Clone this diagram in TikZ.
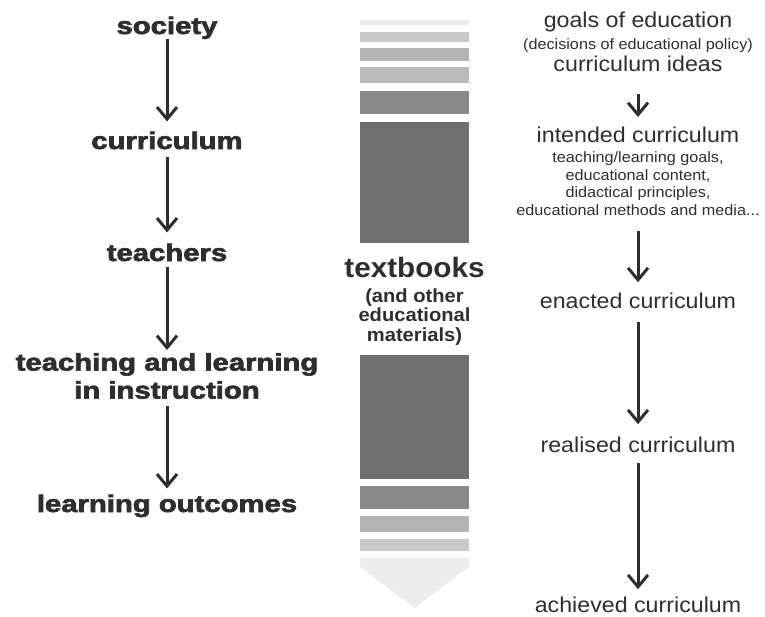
\documentclass[tikz,border=0pt]{standalone}
\usepackage{fontspec}
\setmainfont{Liberation Sans}
\newfontfamily\heavysans{Liberation Sans Bold}[FakeBold=2.5]
\usetikzlibrary{arrows.meta}

\definecolor{inkgray}{HTML}{2E2E2E}
\definecolor{tipgray}{HTML}{ECECEC}
\definecolor{palegray}{HTML}{C9C9C9}
\definecolor{lightgray}{HTML}{B4B4B4}
\definecolor{midgray}{HTML}{8A8A8A}
\definecolor{darkgray}{HTML}{6F6F6F}

\newcommand{\smallline}{\fontsize{15}{17.5}\selectfont}

\begin{document}
\begin{tikzpicture}[x=1pt,y=-1pt,
  stage/.style={font=\heavysans\fontsize{24}{28}\selectfont, text=inkgray, xscale=1.22, align=center, inner sep=0pt},
  level/.style={font=\fontsize{21.5}{22}\selectfont, text=inkgray, xscale=1.08, align=center, inner sep=0pt},
  flow/.style={draw=inkgray, line width=3pt, -{Straight Barb[length=12pt,width=20pt]}}]
\useasboundingbox (0,0) rectangle (765,616);

% left column
\node[stage, anchor=base] (society) at (167,34) {society};
\node[stage, anchor=base] (curric) at (167,149) {curriculum};
\node[stage, anchor=base] (teachers) at (167,261) {teachers};
\node[stage, anchor=north] (instruct) at (167,353) {teaching and learning\\in instruction};
\node[stage, anchor=base] (outcomes) at (167,512) {learning outcomes};

\draw[flow, shorten <=0pt, shorten >=10pt] (society.south) -- (curric.north);
\draw[flow, shorten <=8pt, shorten >=11pt] (curric.south) -- (teachers.north);
\draw[flow, shorten <=6pt, shorten >=3pt] (teachers.south) -- (instruct.north);
\draw[flow, shorten <=7pt, shorten >=6pt] (instruct.south) -- (outcomes.north);

% middle column: the pencil
\fill[tipgray] (360,20) rectangle (469,25);
\fill[palegray] (360,32) rectangle (469,42);
\fill[lightgray] (360,48) rectangle (469,61);
\fill[lightgray!92!white] (360,67) rectangle (469,83);
\fill[midgray] (360,91) rectangle (469,114);
\fill[darkgray] (360,122) rectangle (469,243);
\fill[darkgray] (360,355) rectangle (469,479);
\fill[midgray] (360,486) rectangle (469,509);
\fill[lightgray] (360,516) rectangle (469,532);
\fill[palegray] (360,539) rectangle (469,551);
\fill[tipgray] (360,558) -- (469,558) -- (469,567) -- (414.5,608) -- (360,567) -- cycle;

\node[font=\bfseries\fontsize{19}{19.5}\selectfont, text=inkgray, xscale=1.06, align=center, inner sep=0pt, anchor=north] (books) at (414.5,257)
  {{\fontsize{28}{30}\selectfont textbooks}\\[5.5pt](and other\\educational\\materials)};

% right column
\node[level, anchor=north] (goals) at (638,12)
  {goals of education\\{\smallline (decisions of educational policy)}\\curriculum ideas};
\node[level, font=\smallline, anchor=north] (intended) at (638,127)
  {{\fontsize{21.5}{22}\selectfont intended curriculum}\\[2.5pt]teaching/learning goals,\\educational content,\\didactical principles,\\educational methods and media...};
\node[level, anchor=base] (enacted) at (638,308) {enacted curriculum};
\node[level, anchor=base] (realised) at (638,452) {realised curriculum};
\node[level, anchor=base] (achieved) at (638,612) {achieved curriculum};

\draw[flow, shorten <=22pt, shorten >=10pt] (goals.south) -- (intended.north);
\draw[flow, shorten <=15pt, shorten >=10pt] (intended.south) -- (enacted.north);
\draw[flow, shorten <=14pt, shorten >=12pt] (enacted.south) -- (realised.north);
\draw[flow, shorten <=11pt, shorten >=7pt] (realised.south) -- (achieved.north);
\end{tikzpicture}
\end{document}
